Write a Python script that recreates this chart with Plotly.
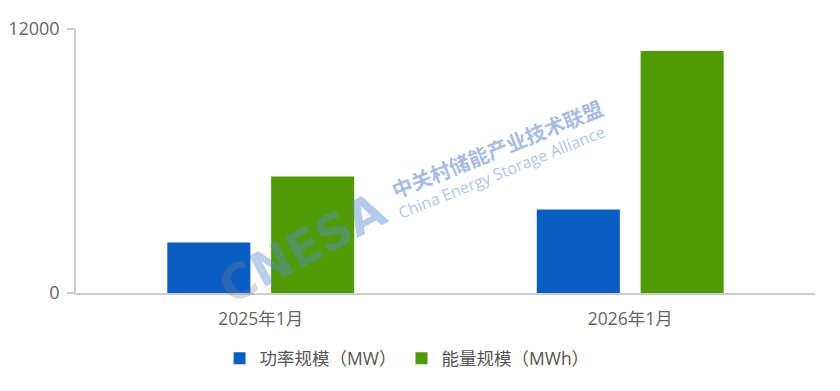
import plotly.graph_objects as go

categories = ["2025年1月", "2026年1月"]
power_mw = [2300, 3800]
energy_mwh = [5300, 11000]
series_names = ["功率规模（MW）", "能量规模（MWh）"]
y_ticks = [0, 12000]

FONT = "Open Sans, Noto Sans CJK SC"
GRAY = "#666666"

fig = go.Figure()
fig.add_trace(go.Bar(x=categories, y=power_mw, name=series_names[0],
                     marker=dict(color="#0a5dc2", line=dict(width=0))))
fig.add_trace(go.Bar(x=categories, y=energy_mwh, name=series_names[1],
                     marker=dict(color="#4f9a05", line=dict(width=0))))

# watermark
fig.add_annotation(xref="paper", yref="paper", x=0.306, y=0.172, showarrow=False,
                   xanchor="center", yanchor="middle",
                   text="<b><span style='color:rgba(120,130,150,0.30)'>C</span>"
                        "<span style='color:rgba(90,140,210,0.42)'>NES</span>"
                        "<span style='color:rgba(90,140,210,0.45)'>A</span></b>",
                   textangle=-28, font=dict(family="DejaVu Sans", size=48))
fig.add_annotation(xref="paper", yref="paper", x=0.57, y=0.55, showarrow=False,
                   xanchor="center", yanchor="middle",
                   text="<b>中关村储能产业技术联盟</b>", textangle=-22,
                   font=dict(family="Noto Sans CJK SC", size=20.5, color="rgba(110,145,210,0.62)"))
fig.add_annotation(xref="paper", yref="paper", x=0.576, y=0.459, showarrow=False,
                   xanchor="center", yanchor="middle",
                   text="China Energy Storage Alliance", textangle=-22,
                   font=dict(family="Open Sans", size=16, color="rgba(120,155,215,0.6)"))

fig.update_layout(
    width=832, height=383,
    margin=dict(l=68, r=25, t=21, b=97.5),
    plot_bgcolor="white", paper_bgcolor="white",
    barmode="group", bargap=0.438, bargroupgap=0.2,
    font=dict(family=FONT, size=17, color=GRAY),
    showlegend=True,
    legend=dict(orientation="h", x=0.448, y=-0.248, xanchor="center", yanchor="middle",
                font=dict(family=FONT, size=17.5, color="#555555"), itemwidth=30,
                traceorder="normal"),
    xaxis=dict(showline=True, linecolor="#cccccc", linewidth=1.5, ticks="",
               automargin=False, ticklabelstandoff=9,
               tickfont=dict(family=FONT, size=17.5, color=GRAY), showgrid=False),
    yaxis=dict(range=[0, 12000], tickvals=y_ticks, ticktext=[str(v) for v in y_ticks],
               showline=True, linecolor="#cccccc", linewidth=1.5,
               ticks="outside", ticklen=7, tickcolor="#cccccc", tickwidth=1.5,
               showgrid=False, zeroline=False, automargin=False, ticklabelstandoff=4,
               tickfont=dict(family=FONT, size=18, color=GRAY)),
)

fig.write_html("out.html")
